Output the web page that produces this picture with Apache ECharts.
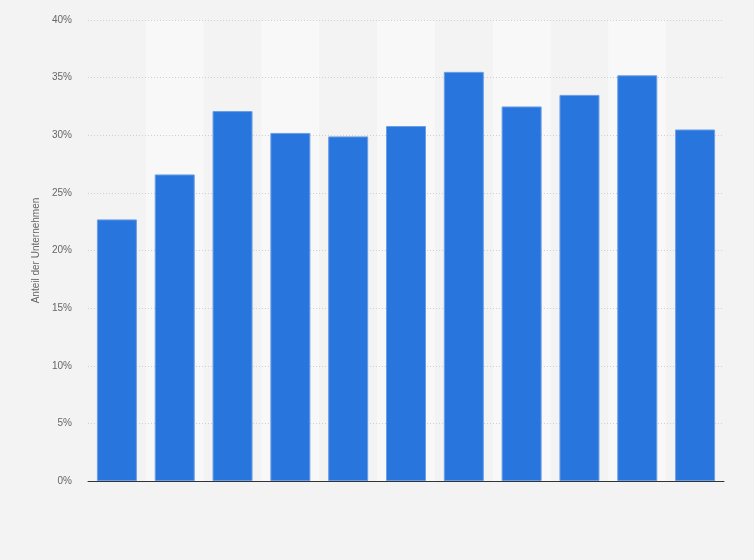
<!DOCTYPE html>
<html>
<head>
<meta charset="utf-8">
<script src="https://cdn.jsdelivr.net/npm/echarts@6/dist/echarts.min.js"></script>
<style>
    html, body {margin: 0; padding: 0; background: #f3f3f3;}
    #chart {width: 754px; height: 560px;}
</style>
</head>
<body>
<div id="chart"></div>
<script>
// categories have no visible labels in the reference
const categories = ['1', '2', '3', '4', '5', '6', '7', '8', '9', '10', '11'];
const shares = [22.7, 26.6, 32.1, 30.2, 29.9, 30.8, 35.5, 32.5, 33.5, 35.2, 30.5];
const yTicks = {min: 0, max: 40, interval: 5};

let chart = echarts.init(document.getElementById('chart'));
let option = {
    backgroundColor: '#f3f3f3',
    grid: {left: 88, right: 30, top: 20, bottom: 79},
    xAxis: {
        type: 'category',
        data: categories,
        z: 0,
        axisLine: {lineStyle: {color: '#333', width: 1}},
        axisTick: {show: false},
        axisLabel: {show: false},
        splitArea: {show: true, areaStyle: {color: ['rgba(0,0,0,0)', '#f8f8f8']}}
    },
    yAxis: {
        type: 'value',
        z: 1,
        min: yTicks.min,
        max: yTicks.max,
        interval: yTicks.interval,
        name: 'Anteil der Unternehmen',
        nameLocation: 'middle',
        nameGap: 39,
        nameTextStyle: {color: '#666', fontSize: 10, fontFamily: 'Liberation Sans'},
        axisLine: {show: false},
        axisTick: {show: false},
        axisLabel: {
            color: '#666',
            fontSize: 10,
            fontFamily: 'Liberation Sans',
            margin: 16,
            formatter: '{value}%'
        },
        splitLine: {showMinLine: false, lineStyle: {color: '#cfcfcf', type: [1, 2]}}
    },
    series: [
        {
            type: 'bar',
            data: shares,
            barWidth: 40,
            itemStyle: {color: '#2876dd', borderColor: '#6a9fe6', borderWidth: 1},
            z: 3
        }
    ]
};
chart.setOption(option);
</script>
</body>
</html>
